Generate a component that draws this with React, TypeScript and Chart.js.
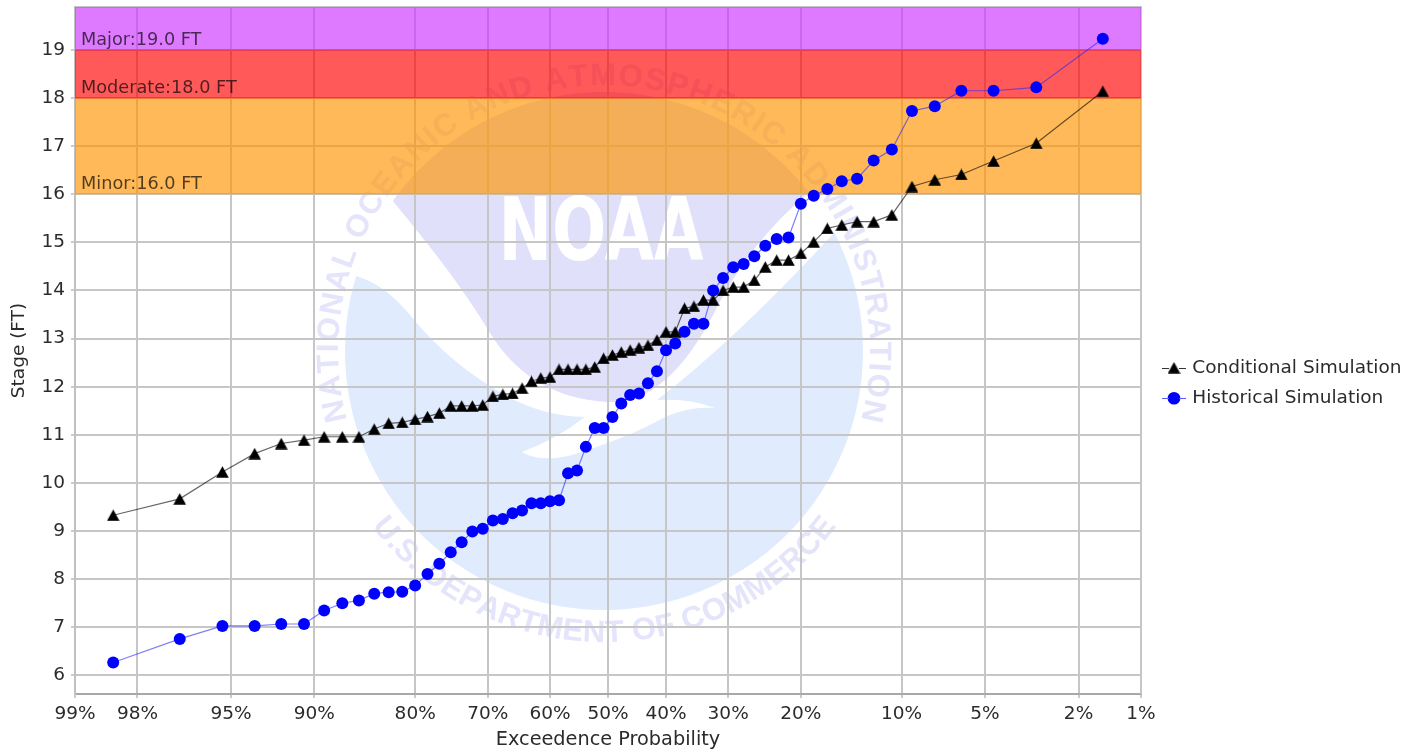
import React, { useEffect, useRef } from "react";
import { Chart, registerables } from "chart.js";

Chart.register(...registerables);

const exceedancePct = [
  98.46, 96.92, 95.38, 93.85, 92.31, 90.77, 89.23, 87.69, 86.15, 84.62, 83.08, 81.54, 80.0, 78.46, 76.92, 75.38,
  73.85, 72.31, 70.77, 69.23, 67.69, 66.15, 64.62, 63.08, 61.54, 60.0, 58.46, 56.92, 55.38, 53.85, 52.31, 50.77,
  49.23, 47.69, 46.15, 44.62, 43.08, 41.54, 40.0, 38.46, 36.92, 35.38, 33.85, 32.31, 30.77, 29.23, 27.69, 26.15,
  24.62, 23.08, 21.54, 20.0, 18.46, 16.92, 15.38, 13.85, 12.31, 10.77, 9.23, 7.69, 6.15, 4.62, 3.08, 1.54,
];
const conditionalStage = [
  9.33, 9.67, 10.23, 10.61, 10.82, 10.89, 10.96, 10.96, 10.96, 11.12, 11.24, 11.26, 11.32, 11.38, 11.45, 11.6,
  11.6, 11.6, 11.62, 11.8, 11.84, 11.86, 11.97, 12.11, 12.18, 12.2, 12.36, 12.36, 12.36, 12.36, 12.41, 12.59,
  12.66, 12.72, 12.76, 12.81, 12.86, 12.97, 13.14, 13.14, 13.63, 13.67, 13.8, 13.8, 14.0, 14.07, 14.07, 14.21,
  14.49, 14.63, 14.63, 14.77, 15.01, 15.29, 15.36, 15.43, 15.43, 15.57, 16.16, 16.3, 16.41, 16.69, 17.06, 18.14,
];
const historicalStage = [
  6.27, 6.76, 7.03, 7.03, 7.07, 7.07, 7.35, 7.5, 7.56, 7.7, 7.73, 7.74, 7.87, 8.11, 8.32, 8.56,
  8.77, 8.99, 9.05, 9.22, 9.25, 9.37, 9.43, 9.58, 9.58, 9.62, 9.64, 10.2, 10.26, 10.75, 11.14, 11.14,
  11.37, 11.65, 11.83, 11.86, 12.07, 12.32, 12.76, 12.9, 13.14, 13.31, 13.31, 14.0, 14.26, 14.48, 14.55, 14.71,
  14.93, 15.07, 15.1, 15.8, 15.97, 16.11, 16.27, 16.32, 16.7, 16.93, 17.73, 17.83, 18.15, 18.15, 18.22, 19.23,
];
const xTickPct = [99, 98, 95, 90, 80, 70, 60, 50, 40, 30, 20, 10, 5, 2, 1];
const yTickValues = [6, 7, 8, 9, 10, 11, 12, 13, 14, 15, 16, 17, 18, 19];
const thresholdNames = ["Minor", "Moderate", "Major"];
const thresholdStages = [16, 18, 19];
const thresholdFills = ["rgba(255,148,0,0.65)", "rgba(255,0,0,0.65)", "rgba(204,51,255,0.65)"];
const thresholdEdges = ["rgba(255,148,0,0)", "rgba(255,30,30,0.8)", "rgba(190,30,130,0.5)"];

const FONT = '"DejaVu Sans", sans-serif';
const Y_MIN = 5.615;
const Y_MAX = 19.89;

// Normal deviate of a non-exceedance probability: the axis is a normal-probability axis.
function probit(p: number): number {
  const a = [-39.69683028665376, 220.9460984245205, -275.9285104469687, 138.357751867269, -30.66479806614716, 2.506628277459239];
  const b = [-54.47609879822406, 161.5858368580409, -155.6989798598866, 66.80131188771972, -13.28068155288572];
  const c = [-0.007784894002430293, -0.3223964580411365, -2.400758277161838, -2.549732539343734, 4.374664141464968, 2.938163982698783];
  const d = [0.007784695709041462, 0.3224671290700398, 2.445134137142996, 3.754408661907416];
  const tail = (q: number) =>
    (((((c[0] * q + c[1]) * q + c[2]) * q + c[3]) * q + c[4]) * q + c[5]) /
    ((((d[0] * q + d[1]) * q + d[2]) * q + d[3]) * q + 1);
  if (p < 0.02425) return tail(Math.sqrt(-2 * Math.log(p)));
  if (p > 1 - 0.02425) return -tail(Math.sqrt(-2 * Math.log(1 - p)));
  const q = p - 0.5;
  const r = q * q;
  return (
    ((((((a[0] * r + a[1]) * r + a[2]) * r + a[3]) * r + a[4]) * r + a[5]) * q) /
    (((((b[0] * r + b[1]) * r + b[2]) * r + b[3]) * r + b[4]) * r + 1)
  );
}
const toX = (pct: number) => probit(1 - pct / 100);

function triangleMarker(): HTMLCanvasElement {
  const c = document.createElement("canvas");
  c.width = 13;
  c.height = 12;
  const g = c.getContext("2d")!;
  g.fillStyle = "#000000";
  g.beginPath();
  g.moveTo(6.5, 0.2);
  g.lineTo(12.8, 11.7);
  g.lineTo(0.2, 11.7);
  g.closePath();
  g.fill();
  return c;
}

function arcText(ctx: CanvasRenderingContext2D, text: string, cx: number, cy: number, r: number, from: number, to: number, bottom: boolean) {
  const widths = [...text].map((ch) => ctx.measureText(ch).width);
  const total = widths.reduce((s, w) => s + w, 0);
  const span = ((to - from) * Math.PI) / 180;
  const gap = (span * r - total) / (text.length - 1);
  let pos = 0;
  [...text].forEach((ch, i) => {
    const th = (from * Math.PI) / 180 + (pos + widths[i] / 2) / r;
    ctx.save();
    if (bottom) {
      ctx.translate(cx + r * Math.sin(th), cy + r * Math.cos(th));
      ctx.rotate(-th);
    } else {
      ctx.translate(cx + r * Math.sin(th), cy - r * Math.cos(th));
      ctx.rotate(th);
    }
    ctx.fillText(ch, 0, 0);
    ctx.restore();
    pos += widths[i] + gap;
  });
}

const watermark = {
  id: "watermark",
  beforeDraw(chart: any) {
    const ctx: CanvasRenderingContext2D = chart.ctx;
    const cx = 604;
    const cy = 351;
    const R = 259;
    ctx.save();
    ctx.beginPath();
    ctx.arc(cx, cy, R, 0, Math.PI * 2);
    ctx.clip();
    ctx.fillStyle = "#e0ebfd";
    ctx.fill(new Path2D(
      "M340 270 L359 277 Q385 285 410 315 Q450 365 510 398 Q545 416 585 417 Q555 440 522 452 Q540 463 572 455 Q630 437 665 417 Q690 406 715 408 Q690 398 657 400 Q735 340 834 233 L900 233 L900 650 L300 650 Z"
    ));
    ctx.fillStyle = "#e0e0fa";
    ctx.fill(new Path2D(
      "M392 200 Q425 240 446 268 Q470 300 490 333 Q530 398 608 402 Q665 405 712 317 Q750 240 812 190 L900 0 L300 0 Z"
    ));
    ctx.restore();
    ctx.save();
    ctx.fillStyle = "#ffffff";
    ctx.font = 'bold 88px "DejaVu Sans", sans-serif';
    ctx.textAlign = "center";
    ctx.textBaseline = "alphabetic";
    ctx.fillText("NOAA", 601, 260, 205);
    ctx.fillStyle = "#e4e4fb";
    ctx.font = 'bold 31px "Liberation Sans", sans-serif';
    ctx.textAlign = "center";
    arcText(ctx, "NATIONAL OCEANIC AND ATMOSPHERIC ADMINISTRATION", cx, cy, 266, -105, 105, false);
    arcText(ctx, "U.S. DEPARTMENT OF COMMERCE", cx, cy, 291, -53, 53, true);
    ctx.restore();
  },
};

const bands = {
  id: "bands",
  beforeDatasetsDraw(chart: any) {
    const { ctx, chartArea: a, scales } = chart;
    const y = scales.y;
    ctx.save();
    ctx.strokeStyle = "#c6c6c6";
    ctx.lineWidth = 2;
    ctx.beginPath();
    ctx.moveTo(a.left, a.top);
    ctx.lineTo(a.right, a.top);
    ctx.lineTo(a.right, a.bottom);
    ctx.stroke();
    thresholdStages.forEach((stage, i) => {
      const low = y.getPixelForValue(stage);
      const high = i + 1 < thresholdStages.length ? y.getPixelForValue(thresholdStages[i + 1]) : a.top;
      ctx.fillStyle = thresholdFills[i];
      ctx.fillRect(a.left, high, a.right - a.left, low - high);
      ctx.strokeStyle = thresholdEdges[i];
      ctx.lineWidth = 1;
      ctx.beginPath();
      ctx.moveTo(a.left, low);
      ctx.lineTo(a.right, low);
      ctx.stroke();
    });
    ctx.font = `17.7px ${FONT}`;
    ctx.textAlign = "left";
    ctx.textBaseline = "alphabetic";
    ctx.fillStyle = "rgba(0,0,0,0.68)";
    thresholdStages.forEach((stage, i) => {
      ctx.fillText(`${thresholdNames[i]}:${stage.toFixed(1)} FT`, a.left + 6, y.getPixelForValue(stage) - 5);
    });
    ctx.restore();
  },
};

const legendShift = {
  id: "legendShift",
  afterLayout(chart: any) {
    const l = chart.legend;
    l.left += 12;
    l.right += 12;
    l.top += 2;
    l.bottom += 2;
  },
  afterDraw(chart: any) {
    const { ctx } = chart;
    const colors = ["#333333", "#5a5aff"];
    chart.legend.legendHitBoxes.forEach((box: any, i: number) => {
      const mid = box.left + 9;
      const yy = Math.round(box.top + box.height / 2) + 0.5;
      ctx.save();
      ctx.strokeStyle = colors[i];
      ctx.lineWidth = 1;
      ctx.beginPath();
      ctx.moveTo(mid - 12, yy);
      ctx.lineTo(mid - 5, yy);
      ctx.moveTo(mid + 5, yy);
      ctx.lineTo(mid + 12, yy);
      ctx.stroke();
      ctx.restore();
    });
  },
};

export default function App() {
  const ref = useRef<HTMLCanvasElement>(null);
  useEffect(() => {
    const canvas = ref.current!;
    const marker = triangleMarker();
    const chart = new Chart(canvas, {
      type: "line",
      data: {
        datasets: [
          {
            label: "Conditional Simulation",
            data: exceedancePct.map((p, i) => ({ x: toX(p), y: conditionalStage[i] })),
            borderColor: "rgba(0,0,0,0.6)",
            backgroundColor: "#000000",
            borderWidth: 1.2,
            pointStyle: marker,
            pointRadius: 7,
            pointBackgroundColor: "#000000",
            pointBorderColor: "#000000",
            pointBorderWidth: 0,
            tension: 0,
          },
          {
            label: "Historical Simulation",
            data: exceedancePct.map((p, i) => ({ x: toX(p), y: historicalStage[i] })),
            borderColor: "rgba(40,40,255,0.6)",
            backgroundColor: "#0000ff",
            borderWidth: 1.2,
            pointStyle: "circle",
            pointRadius: 6,
            pointBackgroundColor: "#0000ff",
            pointBorderColor: "#0000ff",
            pointBorderWidth: 0,
            tension: 0,
          },
        ],
      },
      options: {
        animation: false,
        responsive: false,
        events: [],
        layout: { padding: { top: 7, right: 11, left: 0, bottom: 0 } },
        font: { family: FONT, size: 18 },
        scales: {
          x: {
            type: "linear",
            min: toX(99),
            max: toX(1),
            afterBuildTicks(s: any) {
              s.ticks = xTickPct.map((p) => ({ value: toX(p) }));
            },
            afterFit(s: any) {
              s.height = 61;
              s.paddingLeft = 0;
              s.paddingRight = 0;
            },
            ticks: {
              autoSkip: false,
              maxRotation: 0,
              minRotation: 0,
              padding: 5,
              color: "#2b2b2b",
              font: { family: FONT, size: 18.5 },
              callback: (_v: any, i: number) => `${xTickPct[i]}%`,
            },
            grid: { color: "#c6c6c6", lineWidth: 2, tickLength: 4, tickColor: "#999999", tickWidth: 1 },
            border: { color: "#a8a8a8", width: 2 },
            title: {
              display: true,
              text: "Exceedence Probability",
              color: "#2b2b2b",
              font: { family: FONT, size: 19.3 },
              padding: { top: 2, bottom: 3.5 },
            },
          },
          y: {
            type: "linear",
            min: Y_MIN,
            max: Y_MAX,
            afterBuildTicks(s: any) {
              s.ticks = yTickValues.map((v) => ({ value: v }));
            },
            afterFit(s: any) {
              s.width = 75;
              s.paddingTop = 0;
              s.paddingBottom = 0;
            },
            ticks: {
              padding: 6,
              color: "#2b2b2b",
              font: { family: FONT, size: 18.5 },
              callback: (v: any) => String(v),
            },
            grid: { color: "#c6c6c6", lineWidth: 2, tickLength: 4, tickColor: "#999999", tickWidth: 1 },
            border: { color: "#c0c0c0", width: 2 },
            title: {
              display: true,
              text: "Stage (FT)",
              color: "#2b2b2b",
              font: { family: FONT, size: 18.5 },
              padding: { top: 8, bottom: 2 },
            },
          },
        },
        plugins: {
          title: { display: false },
          tooltip: { enabled: false },
          legend: {
            display: true,
            position: "right",
            align: "center",
            labels: {
              usePointStyle: true,
              boxWidth: 18,
              boxHeight: 9,
              padding: 12,
              color: "#2b2b2b",
              font: { family: FONT, size: 18.5 },
            },
          },
        },
      } as any,
      plugins: [watermark, bands, legendShift],
    });
    // Fit the legend's outer margin so that the plot ends where the reference's does.
    (chart.options as any).layout.padding.right = Math.max(0, 1419 - 1141 - chart.legend!.width);
    chart.update();
    return () => chart.destroy();
  }, []);
  return (
    <div style={{ position: "absolute", left: 0, top: 0, width: 1419, height: 755, background: "#fff" }}>
      <canvas ref={ref} width={1419} height={755} style={{ display: "block", width: 1419, height: 755, filter: "blur(0.5px)" }} />
    </div>
  );
}
